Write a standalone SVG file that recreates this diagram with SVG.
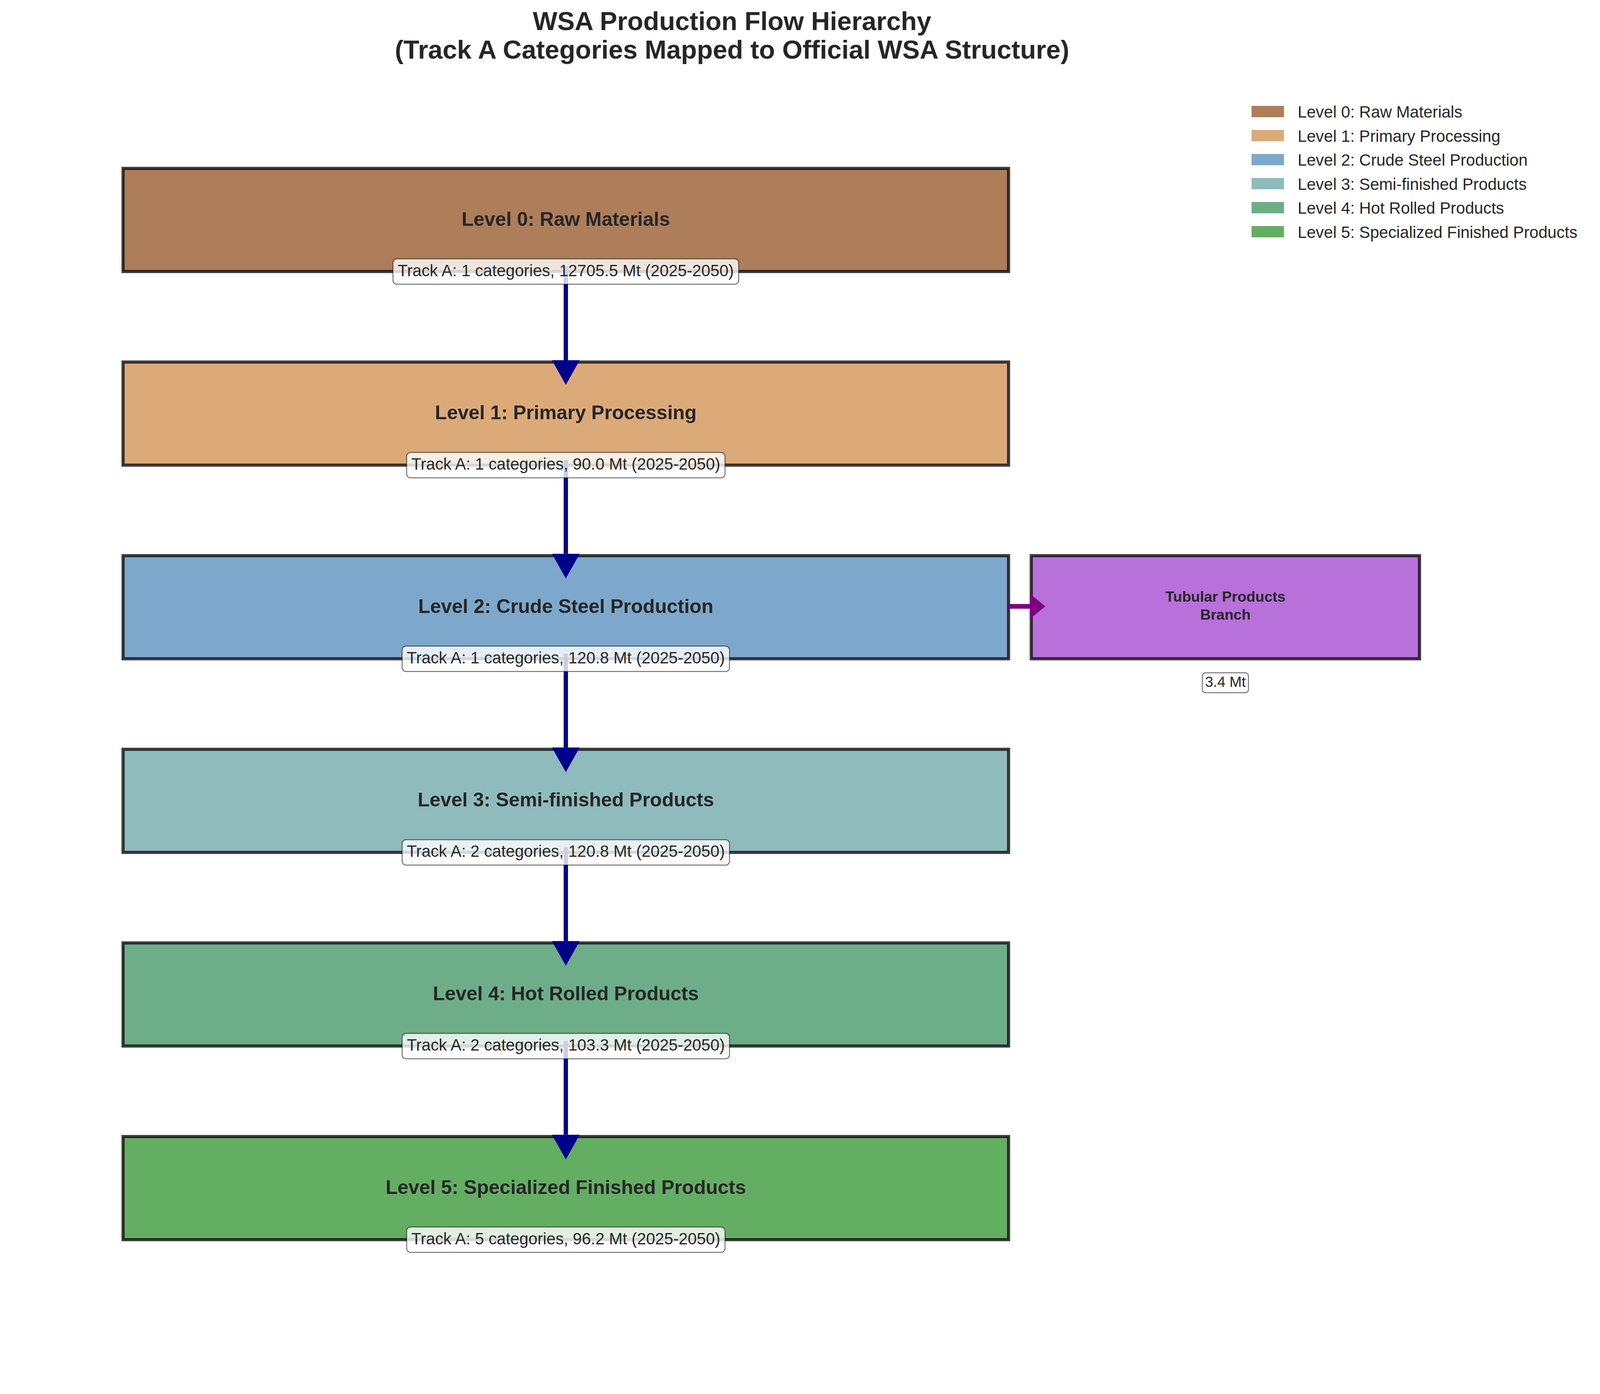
<svg xmlns="http://www.w3.org/2000/svg" width="4761" height="3568" viewBox="0 0 4761 3568">
<style>
text{font-family:"Liberation Sans",Arial,sans-serif;fill:#262626}
.title{font-size:66.7px;font-weight:bold;text-anchor:middle}
.lvl{font-size:50px;font-weight:bold;text-anchor:middle}
.lab{font-size:41.7px;text-anchor:middle}
.leg{font-size:41.7px}
.box{stroke:#000;stroke-opacity:0.75;stroke-width:8}
.lbox{fill:#fff;fill-opacity:0.8;stroke:#000;stroke-opacity:0.55;stroke-width:2.5}
.arr{stroke:#00008B;stroke-width:11;fill:none}
.parr{stroke:#800080;stroke-width:12;fill:none}
</style>
<defs>
<marker id="hd" markerUnits="userSpaceOnUse" markerWidth="63" markerHeight="71" refX="0" refY="35.5" orient="auto" overflow="visible">
<path d="M0,0 L63,35.5 L0,71 Z" fill="#00008B"/>
</marker>
<marker id="hp" markerUnits="userSpaceOnUse" markerWidth="40" markerHeight="66" refX="0" refY="33" orient="auto" overflow="visible">
<path d="M0,0 L40,33 L0,66 Z" fill="#800080"/>
</marker>
</defs>
<rect width="4761" height="3568" fill="#fff"/>
<g id="title">
<text class="title" x="1874" y="77">WSA Production Flow Hierarchy</text>
<text class="title" x="1874" y="150">(Track A Categories Mapped to Official WSA Structure)</text>
</g>
<g id="level0"><rect class="box" x="315" y="431" width="2267" height="264" fill="#AE7D5A"/><text class="lvl" x="1448.5" y="577.5">Level 0: Raw Materials</text></g>
<g id="level1"><rect class="box" x="315" y="926.6" width="2267" height="264" fill="#DCAA79"/><text class="lvl" x="1448.5" y="1073">Level 1: Primary Processing</text></g>
<g id="level2"><rect class="box" x="315" y="1422.2" width="2267" height="264" fill="#7EA8CB"/><text class="lvl" x="1448.5" y="1568.7">Level 2: Crude Steel Production</text></g>
<g id="level3"><rect class="box" x="315" y="1917.8" width="2267" height="264" fill="#8FBBBD"/><text class="lvl" x="1448.5" y="2064.3">Level 3: Semi-finished Products</text></g>
<g id="level4"><rect class="box" x="315" y="2413.4" width="2267" height="264" fill="#6DAE89"/><text class="lvl" x="1448.5" y="2559.9">Level 4: Hot Rolled Products</text></g>
<g id="level5"><rect class="box" x="315" y="2909" width="2267" height="264" fill="#64AE64"/><text class="lvl" x="1448.5" y="3055.5">Level 5: Specialized Finished Products</text></g>
<g id="tubular"><rect class="box" x="2640" y="1422.2" width="994" height="264" fill="#B870DB"/>
<text class="lvl" style="font-size:37.5px" x="3137" y="1540">Tubular Products</text>
<text class="lvl" style="font-size:37.5px" x="3137" y="1586">Branch</text></g>
<g id="connectors">
<line class="arr" x1="1448.5" y1="682" x2="1448.5" y2="922" marker-end="url(#hd)"/>
<line class="arr" x1="1448.5" y1="1177.6" x2="1448.5" y2="1417.6" marker-end="url(#hd)"/>
<line class="arr" x1="1448.5" y1="1673.2" x2="1448.5" y2="1913.2" marker-end="url(#hd)"/>
<line class="arr" x1="1448.5" y1="2168.8" x2="1448.5" y2="2408.8" marker-end="url(#hd)"/>
<line class="arr" x1="1448.5" y1="2664.4" x2="1448.5" y2="2904.4" marker-end="url(#hd)"/>
<line class="parr" x1="2582" y1="1552" x2="2636" y2="1552" marker-end="url(#hp)"/>
</g>
<g id="labels">
<rect class="lbox" x="1006" y="662.5" width="885" height="65" rx="10"/>
<text class="lab" x="1448.5" y="706.5">Track A: 1 categories, 12705.5 Mt (2025-2050)</text>
<rect class="lbox" x="1041" y="1158.1" width="815" height="65" rx="10"/>
<text class="lab" x="1448.5" y="1202.1">Track A: 1 categories, 90.0 Mt (2025-2050)</text>
<rect class="lbox" x="1029.5" y="1653.7" width="838" height="65" rx="10"/>
<text class="lab" x="1448.5" y="1697.7">Track A: 1 categories, 120.8 Mt (2025-2050)</text>
<rect class="lbox" x="1029.5" y="2149.3" width="838" height="65" rx="10"/>
<text class="lab" x="1448.5" y="2193.3">Track A: 2 categories, 120.8 Mt (2025-2050)</text>
<rect class="lbox" x="1029.5" y="2644.9" width="838" height="65" rx="10"/>
<text class="lab" x="1448.5" y="2688.9">Track A: 2 categories, 103.3 Mt (2025-2050)</text>
<rect class="lbox" x="1041" y="3140.5" width="815" height="65" rx="10"/>
<text class="lab" x="1448.5" y="3184.5">Track A: 5 categories, 96.2 Mt (2025-2050)</text>
<rect class="lbox" x="3078" y="1722" width="118" height="51" rx="8"/>
<text class="lab" style="font-size:37.5px" x="3137" y="1758">3.4 Mt</text>
</g>
<g id="legend">
<rect x="3204" y="271" width="83" height="29" fill="#AE7D5A"/><text class="leg" x="3322" y="301">Level 0: Raw Materials</text>
<rect x="3204" y="332.5" width="83" height="29" fill="#DCAA79"/><text class="leg" x="3322" y="362.5">Level 1: Primary Processing</text>
<rect x="3204" y="394" width="83" height="29" fill="#7EA8CB"/><text class="leg" x="3322" y="424">Level 2: Crude Steel Production</text>
<rect x="3204" y="455.5" width="83" height="29" fill="#8FBBBD"/><text class="leg" x="3322" y="485.5">Level 3: Semi-finished Products</text>
<rect x="3204" y="517" width="83" height="29" fill="#6DAE89"/><text class="leg" x="3322" y="547">Level 4: Hot Rolled Products</text>
<rect x="3204" y="578.5" width="83" height="29" fill="#64AE64"/><text class="leg" x="3322" y="608.5">Level 5: Specialized Finished Products</text>
</g>
</svg>
